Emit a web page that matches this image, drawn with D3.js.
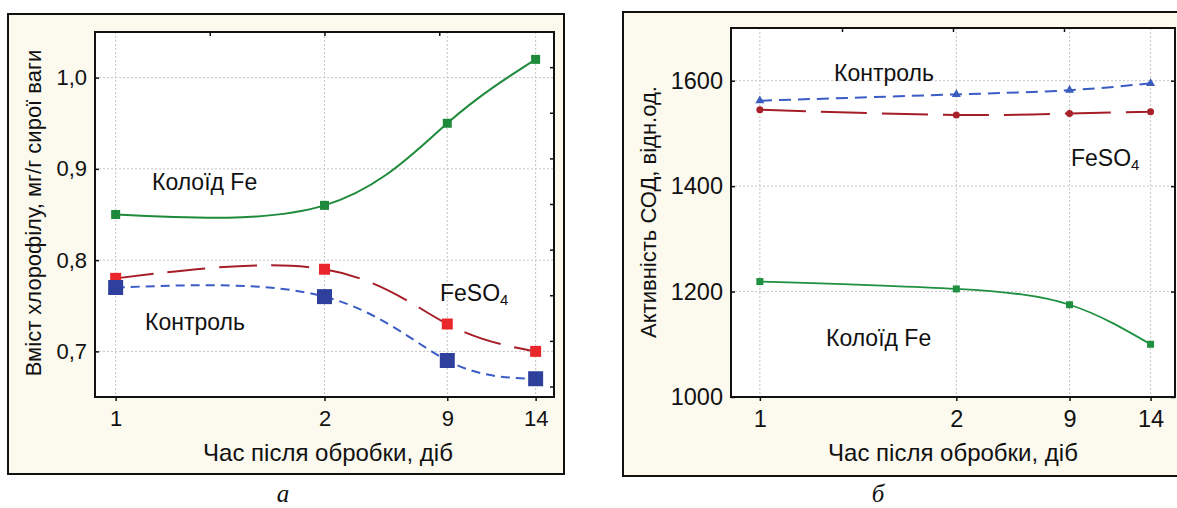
<!DOCTYPE html>
<html>
<head>
<meta charset="utf-8">
<script src="https://cdn.jsdelivr.net/npm/d3@7"></script>
<style>
  body { margin: 0; background: #ffffff; }
  svg { display: block; font-family: "Liberation Sans", Arial, sans-serif; }
</style>
</head>
<body>
<svg id="chart" width="1177" height="508"></svg>
<script>
// ---- data ----
const days = ["1", "2", "9", "14"];

// panel а: chlorophyll content, mg/g fresh weight
const chlColloid = [0.85, 0.86, 0.95, 1.02];
const chlFeSO4   = [0.78, 0.79, 0.73, 0.70];
const chlControl = [0.77, 0.76, 0.69, 0.67];
const chlTicks   = [0.7, 0.8, 0.9, 1.0];

// panel б: SOD activity, relative units
const sodColloid = [1219, 1205, 1175, 1100];
const sodFeSO4   = [1545, 1535, 1538, 1541];
const sodControl = [1562, 1574, 1582, 1595];
const sodTicks   = [1000, 1200, 1400, 1600];

const xTitle = "Час після обробки, діб";

// ---- layout ----
const svg = d3.select("#chart");

const panels = [
  {
    box: { x: 8, y: 14, w: 556, h: 460 },
    plot: { l: 95, t: 32, r: 554, b: 397 },
    yDomain: [0.65, 1.05],
    yTicks: chlTicks,
    yFormat: d => d3.format(".1f")(d).replace(".", ","),
    rightTicks: d3.range(0.6615, 1.05, 0.05),
    slots: [0.18, 2.0, 3.07, 3.84],
    tickFont: 22,
    yTitle: "Вміст  хлорофілу, мг/г сирої ваги",
    yTitleX: 41, yTitleY: 213,
    xTitleX: 328,
    caption: "а", captionX: 283,
    series: [
      { name: "Колоїд Fe", values: chlColloid, line: "#1e8a3b", width: 2, dash: null,
        marker: "square", mColor: "#1e8a3b", mSize: 9, label: [152, 190] },
      { name: "FeSO", sub: "4", values: chlFeSO4, line: "#a51d26", width: 2, dash: "38,14",
        marker: "square", mColor: "#e8262b", mSize: 11, label: [440, 301] },
      { name: "Контроль", values: chlControl, line: "#3a5cc4", width: 2, dash: "9,6",
        marker: "square", mColor: "#2e3f9c", mSize: 15, label: [145, 330] }
    ]
  },
  {
    box: { x: 623, y: 12, w: 620, h: 464 },
    plot: { l: 731, t: 28, r: 1175, b: 397 },
    yDomain: [1000, 1700],
    yTicks: sodTicks,
    yFormat: d => String(d),
    rightTicks: sodTicks,
    slots: [0.26, 2.03, 3.05, 3.78],
    tickFont: 23.5,
    yTitle: "Активність СОД, відн.од.",
    yTitleX: 656, yTitleY: 212,
    xTitleX: 953,
    caption: "б", captionX: 878,
    series: [
      { name: "Колоїд Fe", values: sodColloid, line: "#1f9040", width: 1.8, dash: null,
        marker: "square", mColor: "#1f9040", mSize: 7, label: [826, 346] },
      { name: "FeSO", sub: "4", values: sodFeSO4, line: "#a51d26", width: 2, dash: "46,15",
        marker: "circle", mColor: "#a8202a", mSize: 7, label: [1071, 166] },
      { name: "Контроль", values: sodControl, line: "#3a5cc4", width: 2, dash: "12,7",
        marker: "triangle", mColor: "#3b5bbd", mSize: 9, label: [834, 81] }
    ]
  }
];

panels.forEach(p => {
  const g = svg.append("g");
  const { box, plot } = p;

  // cream frame around the panel
  g.append("rect")
    .attr("x", box.x).attr("y", box.y).attr("width", box.w).attr("height", box.h)
    .attr("fill", "#fcf9ef").attr("stroke", "#111").attr("stroke-width", 2);

  // plotting area
  g.append("rect")
    .attr("x", plot.l).attr("y", plot.t)
    .attr("width", plot.r - plot.l).attr("height", plot.b - plot.t)
    .attr("fill", "#ffffff");

  // scales: x is a 0..4 unit frame, each day sits on its own slot
  const unit = d3.scaleLinear().domain([0, 4]).range([plot.l, plot.r]);
  const x = d3.scaleOrdinal().domain(days).range(p.slots.map(unit));
  const y = d3.scaleLinear().domain(p.yDomain).range([plot.b, plot.t]);

  // dotted grid
  const grid = g.append("g").attr("stroke", "#c4c4c4").attr("stroke-width", 1)
    .attr("stroke-dasharray", "2,2");
  grid.selectAll(".h").data(p.yTicks).join("line")
    .attr("x1", plot.l).attr("x2", plot.r)
    .attr("y1", d => y(d)).attr("y2", d => y(d));
  grid.selectAll(".v").data(days).join("line")
    .attr("x1", d => x(d)).attr("x2", d => x(d))
    .attr("y1", plot.t).attr("y2", plot.b);

  // series
  p.series.forEach(s => {
    const pts = days.map((d, i) => [x(d), y(s.values[i])]);
    g.append("path")
      .attr("d", d3.line().curve(d3.curveNatural)(pts))
      .attr("fill", "none")
      .attr("stroke", s.line)
      .attr("stroke-width", s.width)
      .attr("stroke-dasharray", s.dash);

    const symType = s.marker === "circle" ? d3.symbolCircle
      : s.marker === "triangle" ? d3.symbolTriangle : d3.symbolSquare;
    const area = s.marker === "circle" ? Math.PI * (s.mSize / 2) ** 2
      : s.marker === "triangle" ? s.mSize * s.mSize * 0.433 : s.mSize * s.mSize;
    g.selectAll(null).data(pts).join("path")
      .attr("transform", d => `translate(${d[0]},${d[1]})`)
      .attr("d", d3.symbol().type(symType).size(area))
      .attr("fill", s.mColor);

    const t = g.append("text")
      .attr("x", s.label[0]).attr("y", s.label[1])
      .attr("font-size", 23).attr("fill", "#111")
      .text(s.name);
    if (s.sub) {
      t.append("tspan").attr("font-size", 15).attr("dy", 4).text(s.sub);
    }
  });

  // plot border
  g.append("rect")
    .attr("x", plot.l).attr("y", plot.t)
    .attr("width", plot.r - plot.l).attr("height", plot.b - plot.t)
    .attr("fill", "none").attr("stroke", "#111").attr("stroke-width", 2);

  // axes
  const left = g.append("g").attr("transform", `translate(${plot.l},0)`)
    .call(d3.axisLeft(y).tickValues(p.yTicks).tickFormat(p.yFormat)
      .tickSize(-4).tickPadding(8));
  const bottom = g.append("g").attr("transform", `translate(0,${plot.b})`)
    .call(d3.axisBottom(x).tickSize(4).tickPadding(9));
  const top = g.append("g").attr("transform", `translate(0,${plot.t})`)
    .call(d3.axisBottom(unit).tickValues([1, 2, 3]).tickSize(4).tickFormat(""));
  const right = g.append("g").attr("transform", `translate(${plot.r},0)`)
    .call(d3.axisLeft(y).tickValues(p.rightTicks).tickSize(4).tickFormat(""));

  [left, bottom, top, right].forEach(a => {
    a.select(".domain").remove();
    a.selectAll(".tick line").attr("stroke", "#111").attr("stroke-width", 1.5);
    a.selectAll(".tick text").attr("font-size", p.tickFont).attr("fill", "#111")
      .attr("font-family", "Liberation Sans, Arial, sans-serif");
  });

  // axis titles
  g.append("text")
    .attr("x", p.xTitleX).attr("y", 461)
    .attr("text-anchor", "middle").attr("font-size", 24).attr("fill", "#111")
    .text(xTitle);
  g.append("text")
    .attr("transform", `translate(${p.yTitleX},${p.yTitleY}) rotate(-90)`)
    .attr("text-anchor", "middle").attr("font-size", 22).attr("fill", "#111")
    .text(p.yTitle);

  // panel caption
  g.append("text")
    .attr("x", p.captionX).attr("y", 502)
    .attr("text-anchor", "middle").attr("font-size", 25).attr("font-style", "italic")
    .attr("font-family", "Liberation Serif, Times New Roman, serif").attr("fill", "#111")
    .text(p.caption);
});
</script>
</body>
</html>
